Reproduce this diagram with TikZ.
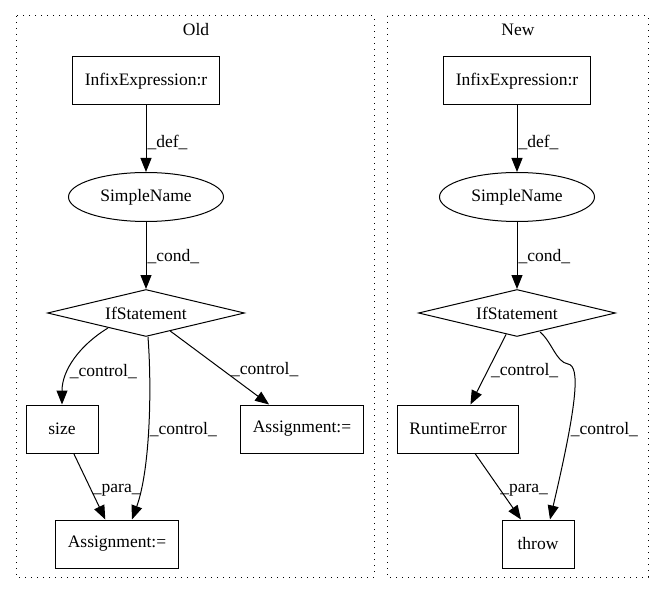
\documentclass[tikz,border=0pt]{standalone}
\usepackage{fontspec}
\setmainfont{Liberation Serif}
\usetikzlibrary{calc,arrows.meta,shapes.geometric}
\tikzset{
	every node/.style={font=\fontsize{17.5}{20}\selectfont},
	box/.style={draw, line width=1pt, minimum width=72pt, minimum height=48pt, inner xsep=12pt},
	oval/.style={draw, line width=1pt, ellipse, minimum width=155pt, minimum height=49pt},
	cond/.style={draw, line width=1pt, diamond, aspect=4, inner sep=0pt, minimum width=197pt, minimum height=47pt},
	edge/.style={line width=1pt, -{Triangle[length=14pt,width=11pt]}},
	lbl/.style={anchor=west, inner sep=1pt},
	cluster/.style={line width=1pt, dash pattern=on 1pt off 5pt},
}

\begin{document}
\begin{tikzpicture}[x=1pt,y=-1pt]
\useasboundingbox (0,0) rectangle (664,596);
\draw[cluster] (16,16) rectangle (374,577);
\draw[cluster] (387,16) rectangle (648,577);
\node (old) at (196,30) {Old};
\node (new) at (518,30) {New};

\node[box] (inf1) at (146,81) {InfixExpression:r};
\node[oval] (sn1) at (146,197) {SimpleName};
\node[cond] (if1) at (146,313) {IfStatement};
\node[box] (size1) at (62,429) {size};
\node[box] (asr1) at (302,429) {Assignment:=};
\node[box] (asb1) at (117,544) {Assignment:=};
\draw[edge] (inf1) -- node[lbl, pos=0.55] {\_def\_} (sn1);
\draw[edge] (sn1) -- node[lbl, pos=0.52] {\_cond\_} (if1);
\draw[edge] ($(if1)+(-38,15)$) .. controls (80,345) and (62,370) .. node[lbl, pos=0.65] {\_control\_} (size1.north);
\draw[edge] ($(if1.south)+(2,0)$) .. controls (152,390) and (150,470) .. node[lbl, pos=0.5] {\_control\_} ($(asb1.north)+(15,0)$);
\draw[edge] (if1) -- node[lbl, pos=0.53, xshift=7pt] {\_control\_} (asr1);
\draw[edge] (size1) -- node[lbl, pos=0.56] {\_para\_} (asb1);

\node[box] (inf2) at (517,81) {InfixExpression:r};
\node[oval] (sn2) at (517,197) {SimpleName};
\node[cond] (if2) at (517,313) {IfStatement};
\node[box] (rte2) at (458,429) {RuntimeError};
\node[box] (thr2) at (538,544) {throw};
\draw[edge] (inf2) -- node[lbl, pos=0.55] {\_def\_} (sn2);
\draw[edge] (sn2) -- node[lbl, pos=0.52] {\_cond\_} (if2);
\draw[edge] (if2) -- node[lbl, pos=0.52, xshift=2pt] {\_control\_} (rte2);
\draw[edge] ($(if2)+(23,19)$) .. controls (552,342) and (556,362) .. (568,364) .. controls (580,366) and (578,400) .. node[lbl, pos=0.68] {\_control\_} ($(thr2.north)+(12,0)$);
\draw[edge] (rte2) -- node[lbl, pos=0.56, xshift=-2pt] {\_para\_} (thr2);
\end{tikzpicture}
\end{document}
